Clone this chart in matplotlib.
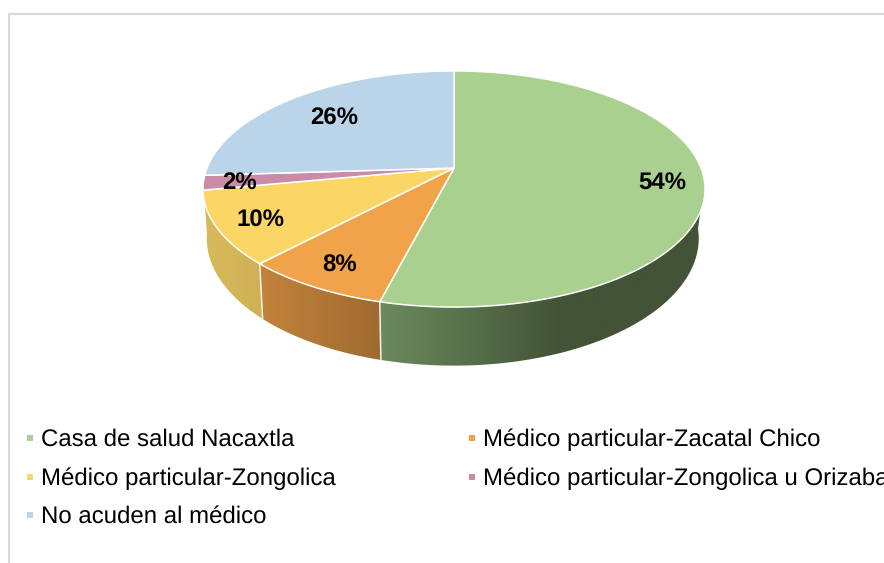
import numpy as np
import matplotlib
matplotlib.use("Agg")
import matplotlib.pyplot as plt
from matplotlib.colors import to_rgb
from matplotlib.patches import Polygon

categories = ["Casa de salud Nacaxtla", "Médico particular-Zacatal Chico",
              "Médico particular-Zongolica", "Médico particular-Zongolica u Orizaba",
              "No acuden al médico"]
values = [54, 8, 10, 2, 26]
labels = ["54%", "8%", "10%", "2%", "26%"]
colors = ["#A9D08E", "#F0A348", "#FCD664", "#C98BA5", "#BAD4EA"]
wall_left = ["#6D8A5E", "#C4833C", "#D8BA5C"]
wall_right = ["#425337", "#9E6A30", "#CFB054"]
label_pos = [(662, 183), (340, 266), (261, 221), (240, 183), (334, 119)]
legend_pos = [(30, 440), (472, 440), (30, 479), (472, 479), (30, 517)]

plt.rcParams["font.family"] = ["Liberation Sans", "DejaVu Sans"]
plt.rcParams["text.hinting"] = "no_hinting"
plt.rcParams["text.hinting_factor"] = 1
fig = plt.figure(figsize=(8.84, 5.63), dpi=100)
ax = fig.add_axes([0, 0, 1, 1])
ax.axis("off")

CX, CY, A, C, B = 454.0, 168.0, 247.0, 114.3, 0.178


def top(theta):
    t = np.radians(theta)
    u, v = np.sin(t), np.cos(t)
    d = 1 + B * v
    return CX + A * u / d, CY - C * v / d


def bottom(theta):
    x, y = top(theta)
    dx = x - CX
    return CX + np.where(dx < 0, 0.985, 0.975) * dx, CY + 47.6 + 1.079 * (y - CY)


edges = 360 * np.cumsum([0] + values) / sum(values)

# border of the chart area
ax.plot([9, 9, 884], [563, 14, 14], color="#D9D9D9", lw=1.5, solid_joinstyle="miter")

# side wall: only the three front slices are visible
VIS0, VIS1 = 96.0, 262.0
for i in range(3):
    a0, a1 = max(edges[i], VIS0), edges[i + 1] if i < 2 else VIS1
    th = np.linspace(a0, a1, 200)
    xt, yt = top(th)
    xb, yb = bottom(th)
    poly = Polygon(np.c_[np.r_[xt, xb[::-1]], np.r_[yt, yb[::-1]]], closed=True,
                   facecolor="none", edgecolor="none", transform=ax.transData)
    ax.add_patch(poly)
    lo, hi = min(xt.min(), xb.min()) - 1, max(xt.max(), xb.max()) + 1
    stop = 560 if i == 0 else hi
    grid = np.linspace(lo, hi, 400)
    frac = np.clip((grid - lo) / (stop - lo), 0, 1)[None, :, None]
    cl, cr = np.array(to_rgb(wall_left[i])), np.array(to_rgb(wall_right[i]))
    img = cl + (cr - cl) * frac
    im = ax.imshow(img, extent=(lo, hi, 563, 0), aspect="auto", zorder=2,
                   interpolation="bilinear")
    im.set_clip_path(poly)
    if edges[i] > VIS0:
        xa, ya = top(edges[i])
        xc, yc = bottom(edges[i])
        ax.plot([xa, xc], [ya, yc], color="#F2F2F2", lw=1.1, zorder=3)

ax.set_xlim(0, 884)
ax.set_ylim(563, 0)

# top face
for i in range(len(values)):
    th = np.linspace(edges[i], edges[i + 1], int(values[i] * 8) + 3)
    x, y = top(th)
    ax.fill(np.r_[CX, x], np.r_[CY, y], facecolor=colors[i], edgecolor="white",
            lw=1.1, joinstyle="round", zorder=4)

# data labels
for s, (x, y) in zip(labels, label_pos):
    ax.text(x, y, s, ha="center", va="center", fontsize=17.4, fontweight="bold",
            color="black", zorder=6)

# legend
for name, col, (x, y) in zip(categories, colors, legend_pos):
    ax.scatter([x], [438 + (y - 440)], marker="s", s=24, color=col, linewidths=0, zorder=5)
    ax.text(x + 11, y, name, ha="left", va="center", fontsize=17.2, color="black", zorder=6)

fig.savefig("out.png", dpi=100)
